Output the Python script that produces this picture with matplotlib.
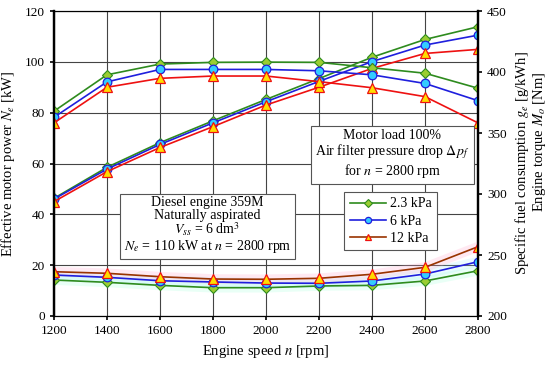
import matplotlib
matplotlib.use("Agg")
import matplotlib.pyplot as plt

plt.rcParams['font.family'] = ['Liberation Serif', 'DejaVu Serif']
plt.rcParams['mathtext.fontset'] = 'stix'

# engine speed [rpm]
speed = [1200, 1400, 1600, 1800, 2000, 2200, 2400, 2600, 2800]

# effective power [kW] (left axis)
power_23 = [46.3, 58.5, 68.2, 76.8, 85.2, 93.4, 101.8, 108.8, 113.8]
power_6 = [46.0, 57.8, 67.5, 76.0, 84.3, 92.3, 100.1, 106.6, 110.5]
power_12 = [45.0, 56.8, 66.3, 74.5, 83.0, 90.0, 97.4, 103.3, 104.9]

# engine torque [Nm] (right axis)
torque_23 = [367.9, 397.7, 406.5, 407.9, 408.1, 407.9, 403.5, 399.0, 386.7]
torque_6 = [362.9, 391.9, 402.1, 402.1, 402.1, 401.0, 397.7, 390.6, 376.5]
torque_12 = [358.3, 387.5, 394.8, 396.7, 396.7, 392.1, 387.1, 379.8, 358.3]

# specific fuel consumption [g/kWh] (right axis)
sfc_23 = [229.5, 227.6, 225.1, 223.2, 223.2, 224.6, 225.1, 228.7, 237.1]
sfc_6 = [233.6, 231.7, 228.9, 227.9, 227.0, 226.8, 228.7, 234.4, 244.5]
sfc_12 = [236.3, 235.0, 232.2, 230.3, 230.1, 230.9, 234.2, 239.9, 256.8]

labels = ['2.3 kPa', '6 kPa', '12 kPa']

fig = plt.figure(figsize=(5.5, 3.65), dpi=100)
ax = fig.add_axes([54 / 550, 1 - 316 / 365, 424 / 550, 305 / 365])
ax2 = ax.twinx()

ax.set_xlim(1200, 2800)
ax.set_ylim(0, 120)
ax.set_xticks(range(1200, 2801, 200))
ax.set_yticks(range(0, 121, 20))
ax.grid(True, color='#444444', linewidth=0.8)
ax.set_axisbelow(True)
ax2.set_ylim(200, 450)
ax2.set_yticks(range(200, 451, 50))

for a in (ax, ax2):
    for s in a.spines.values():
        s.set_linewidth(0.8)
    a.spines['left'].set_linewidth(1.6)
    a.spines['right'].set_linewidth(1.6)
    a.tick_params(labelsize=9.5, length=3, width=1.2, direction='out')

green = dict(color='#2e8b1e', marker='D', markersize=5.5, markerfacecolor='#9acd32',
             markeredgecolor='#2e8b1e', markeredgewidth=0.8, linewidth=1.2)
blue = dict(color='#1f1fdd', marker='o', markersize=6.2, markerfacecolor='#33ccff',
            markeredgecolor='#1f1fdd', markeredgewidth=0.9, linewidth=1.2)
red = dict(color='#ee1111', marker='^', markersize=7.2, markerfacecolor='#ffdd00',
           markeredgecolor='#ee1111', markeredgewidth=0.9, linewidth=1.2)

# power
ax.plot(speed, power_23, **green)
ax.plot(speed, power_6, **blue)
ax.plot(speed, power_12, **red)

# torque
ax2.plot(speed, torque_23, **green)
ax2.plot(speed, torque_6, **blue)
ax2.plot(speed, torque_12, **red)

# fuel consumption, with soft glow
ax2.plot(speed, sfc_23, color='#aaffdd', linewidth=7, alpha=0.25, zorder=1.5)
ax2.plot(speed, sfc_6, color='#99eeff', linewidth=7, alpha=0.2, zorder=1.5)
ax2.plot(speed, sfc_12, color='#ffaacc', linewidth=7, alpha=0.25, zorder=1.5)
h1, = ax2.plot(speed, sfc_23, **green)
h2, = ax2.plot(speed, sfc_6, **blue)
red_sfc = dict(red, color='#993300')
h3, = ax2.plot(speed, sfc_12, **red_sfc)

ax.set_xlabel('Engine speed $n$ [rpm]', fontsize=10.5, labelpad=4)
ax.set_ylabel('Effective motor power $N_e$ [kW]', fontsize=10.5, labelpad=6)
fig.text(522 / 550, 1 - 163 / 365, 'Specific fuel consumption $g_e$ [g/kWh]',
         rotation=90, ha='center', va='center', fontsize=10.5)
fig.text(540 / 550, 1 - 142 / 365, 'Engine torque $M_o$ [Nm]',
         rotation=90, ha='center', va='center', fontsize=10.5)

box = dict(boxstyle='square,pad=0.3', facecolor='white', edgecolor='#555555', linewidth=0.8)
ax2.text(0.798, 0.531, 'Motor load 100%\nAir filter pressure drop $\\Delta p_f$\nfor $n$ = 2800 rpm',
         transform=ax2.transAxes, ha='center', va='center', fontsize=10,
         linespacing=1.05, bbox=box, zorder=5)
ax2.text(0.362, 0.297, 'Diesel engine 359M\nNaturally aspirated\n$V_{ss}$ = 6 dm$^3$\n$N_e$ = 110 kW at $n$ = 2800 rpm',
         transform=ax2.transAxes, ha='center', va='center', fontsize=10,
         linespacing=0.95, bbox=box, zorder=5)

leg = ax2.legend([h1, h2, h3], labels, loc='upper left', bbox_to_anchor=(0.684, 0.407),
                 borderaxespad=0, fancybox=False, fontsize=10, handlelength=2.6,
                 labelspacing=0.3, handletextpad=0.3, framealpha=1, borderpad=0.4)
leg.get_frame().set_edgecolor('#555555')
leg.get_frame().set_linewidth(0.8)
leg.set_zorder(6)
for lh in leg.legend_handles:
    lh.set_markersize(4.5)

fig.savefig('out.png', dpi=100)
